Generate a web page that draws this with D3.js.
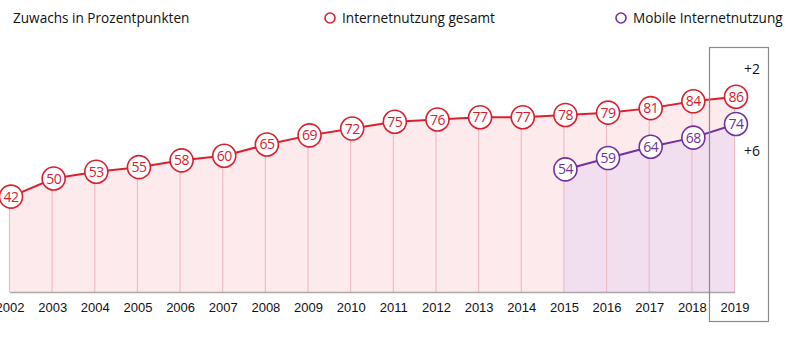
<!DOCTYPE html>
<html><head><meta charset="utf-8">
<script src="https://cdn.jsdelivr.net/npm/d3@7"></script>
<style>body{margin:0;background:#fff}svg{display:block;font-family:"Open Sans","Noto Sans",sans-serif}</style>
</head><body><svg width="800" height="344"></svg>
<script>
const years = [2002,2003,2004,2005,2006,2007,2008,2009,2010,2011,2012,2013,2014,2015,2016,2017,2018,2019];
const gesamt = [42,50,53,55,58,60,65,69,72,75,76,77,77,78,79,81,84,86];
const mobileYears = [2015,2016,2017,2018,2019];
const mobile = [54,59,64,68,74];
const deltas = [{label:"+2", value:98},{label:"+6", value:62}];
const seriesNames = ["Internetnutzung gesamt","Mobile Internetnutzung"];
const title = "Zuwachs in Prozentpunkten";

const RED="#d9202f", PURPLE="#7030a0";
const svg=d3.select("svg");
const x=d3.scaleLinear().domain([2002,2019]).range([9.5,734.5]);
const y=d3.scaleLinear().domain([0,100]).range([292,65]);
const OFF=1.5;

const red=years.map((d,i)=>({x:d,v:gesamt[i]}));
const pur=mobileYears.map((d,i)=>({x:d,v:mobile[i]}));

const area=d3.area().x(d=>x(d.x)).y0(y(0)).y1(d=>y(d.v));
const line=d3.line().x(d=>x(d.x)+OFF).y(d=>y(d.v));

svg.append("path").datum(red).attr("d",area).attr("fill","#fdeaec");
svg.append("path").datum(pur).attr("d",area).attr("fill","#f1dff0");

svg.selectAll(".vl").data(red).join("line")
 .attr("x1",d=>x(d.x)).attr("x2",d=>x(d.x)).attr("y1",y(0)).attr("y2",d=>y(d.v))
 .attr("stroke","#efbcc4").attr("stroke-width",1.2);

// axis
const ax=d3.axisBottom(x).tickValues(years).tickFormat(d3.format("d")).tickSize(0).tickPadding(11);
const g=svg.append("g").attr("transform",`translate(0,${y(0)})`).call(ax);
g.select(".domain").attr("stroke","#a9a9a9").attr("stroke-width",1.5);
g.selectAll("text").attr("font-size",13).attr("fill","#111");

svg.append("path").datum(red).attr("d",line).attr("fill","none").attr("stroke",RED).attr("stroke-width",2);
svg.append("path").datum(pur).attr("d",line).attr("fill","none").attr("stroke",PURPLE).attr("stroke-width",2);

function dots(data,col){
  const gg=svg.append("g").selectAll("g").data(data).join("g")
   .attr("transform",d=>`translate(${x(d.x)+OFF},${y(d.v)})`);
  gg.append("circle").attr("r",11.5).attr("fill","#fff").attr("stroke",col).attr("stroke-width",1.6);
  gg.append("text").text(d=>d.v).attr("text-anchor","middle").attr("dy","0.36em")
   .attr("font-size",14).attr("fill",col).attr("letter-spacing","-0.5");
}
dots(red,RED); dots(pur,PURPLE);

// highlight box
svg.append("rect").attr("x",709.5).attr("y",47.5).attr("width",59).attr("height",274)
 .attr("fill","none").attr("stroke","#8a8a8a").attr("stroke-width",1.2);
svg.selectAll(".dl").data(deltas).join("text").text(d=>d.label)
 .attr("x",752).attr("y",d=>y(d.value)).attr("dy","0.35em").attr("text-anchor","middle")
 .attr("font-size",14).attr("fill","#111");

// legend / title
svg.append("text").text(title).attr("x",13).attr("y",23).attr("font-size",13.6).attr("fill","#111");
const leg=[{name:seriesNames[0],col:RED,x:330},{name:seriesNames[1],col:PURPLE,x:621}];
leg.forEach(l=>{
  svg.append("circle").attr("cx",l.x).attr("cy",18).attr("r",5).attr("fill","none").attr("stroke",l.col).attr("stroke-width",1.6);
  svg.append("text").text(l.name).attr("x",l.x+12).attr("y",23).attr("font-size",13.6).attr("fill","#111");
});
</script></body></html>
